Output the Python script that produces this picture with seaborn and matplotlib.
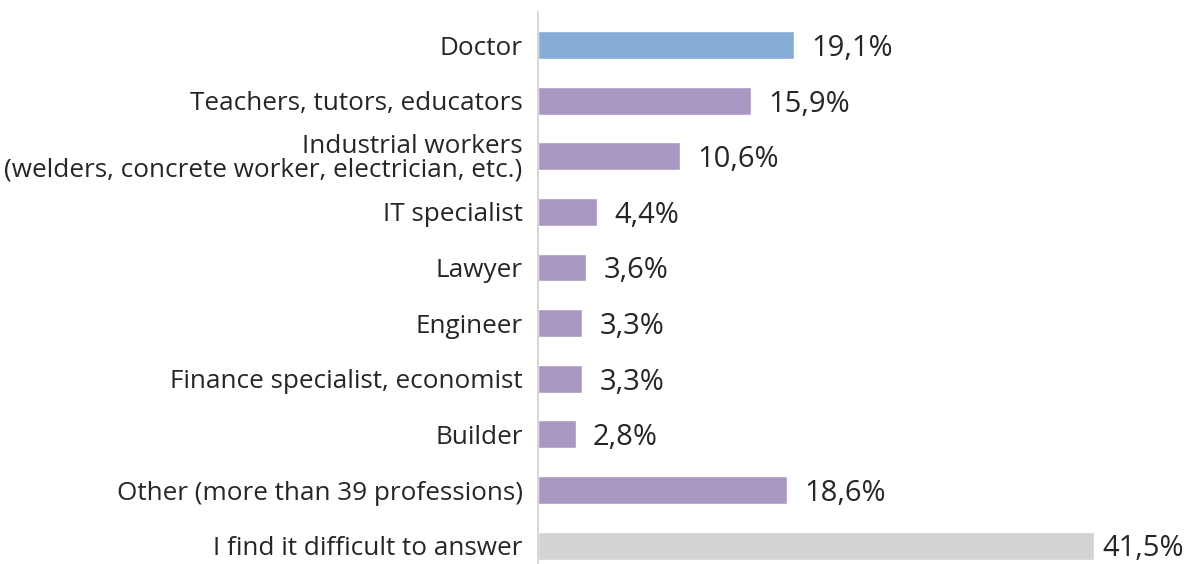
import seaborn as sns
import pandas as pd
import matplotlib.pyplot as plt

professions = [
    'Doctor',
    'Teachers, tutors, educators',
    'Industrial workers\n(welders, concrete worker, electrician, etc.)',
    'IT specialist',
    'Lawyer',
    'Engineer',
    'Finance specialist, economist',
    'Builder',
    'Other (more than 39 professions)',
    'I find it difficult to answer',
]
shares = [19.1, 15.9, 10.6, 4.4, 3.6, 3.3, 3.3, 2.8, 18.6, 41.5]
bar_colors = ['#86add5'] + ['#a898c3'] * 8 + ['#d2d3d5']

sns.set_style('white')
plt.rcParams['font.family'] = ['Open Sans', 'DejaVu Sans']

df = pd.DataFrame({'profession': professions, 'share': shares})

fig = plt.figure(figsize=(11.89, 5.64), dpi=100)
ax = fig.add_axes([538 / 1189, 0, 1 - 538 / 1189, 1 - 12 / 564])
sns.barplot(data=df, y='profession', x='share', hue='profession',
            palette=bar_colors, saturation=1, legend=False, width=0.5,
            ax=ax, orient='h')

ax.set_xlim(0, 48.6)
ax.set_ylim(9.33, -0.594)
ax.set_xlabel('')
ax.set_ylabel('')
ax.set_xticks([])
ax.tick_params(axis='y', length=0, pad=11, labelsize=18.8, labelcolor='#262626')
for lbl in ax.get_yticklabels():
    lbl.set_linespacing(0.9)
sns.despine(ax=ax, top=True, right=True, bottom=True, left=False)
ax.spines['left'].set_color('#d0d0d0')
ax.spines['left'].set_linewidth(1.2)

# the longest bar sits near the right edge, so its label hugs the bar
for i, v in enumerate(shares):
    gap = 1.3 if v < 40 else 0.6
    ax.text(v + gap, i + 0.06, f'{v:.1f}%'.replace('.', ','), va='center', ha='left',
            fontsize=21, color='#262626')

fig.savefig('out.png', dpi=100)
